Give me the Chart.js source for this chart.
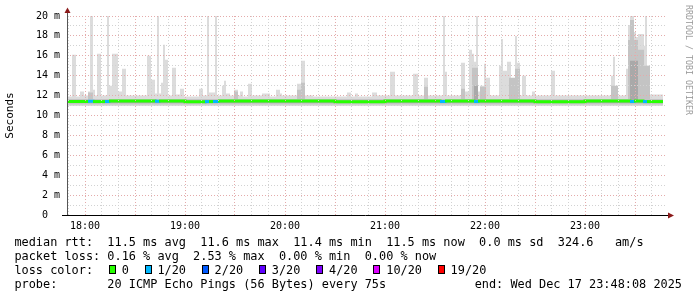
<!DOCTYPE html>
<html><head><meta charset="utf-8">
<script src="https://cdn.jsdelivr.net/npm/chart.js@4.4.1/dist/chart.umd.min.js"></script>
<style>
html,body{margin:0;padding:0;background:#fff;}
#wrap{position:relative;width:697px;height:297px;overflow:hidden;background:#fff;}
#c{position:absolute;left:0;top:0;}
.leg{position:absolute;left:14.4px;top:234.6px;font-family:'DejaVu Sans Mono',monospace;font-size:11.88px;line-height:14px;white-space:pre;color:#000;}
.sq{display:inline-block;box-sizing:border-box;width:7px;height:9px;border:1px solid #000;margin-left:1.5px;margin-right:-1.35px;vertical-align:baseline;}
#end{position:absolute;right:15px;top:276.6px;font-family:'DejaVu Sans Mono',monospace;font-size:11.88px;line-height:14px;white-space:pre;color:#000;}
#wm{position:absolute;left:693.5px;top:5px;transform:rotate(90deg);transform-origin:0 0;font-family:'DejaVu Sans Mono',monospace;font-size:8.3px;line-height:10px;color:#9a9a9a;white-space:nowrap;}
</style></head>
<body>
<div id="wrap">
<canvas id="c" width="697" height="297"></canvas>
<div class="leg" id="leg"></div>
<div id="end"></div>
<div id="wm">RRDTOOL / TOBI OETIKER</div>
</div>
<script>
// ---- data (time in minutes relative to 18:00, values in ms) ----
const hourLabels = ['18:00','19:00','20:00','21:00','22:00','23:00'];
const lossLabels = ['0','1/20','2/20','3/20','4/20','10/20','19/20'];
const lossColors = ['#26ff00','#00b8ff','#0059ff','#5e00ff','#7e00ff','#dd00ff','#ff0000'];

// outer (lightest) smoke: maximum ping per step
const smokeT = [-10.8,-7.8,-5.4,-3.0,-0.6,1.8,3.0,4.8,6.0,7.2,9.6,13.2,14.4,16.2,19.8,22.2,24.6,37.2,39.6,42.0,43.2,44.4,45.6,46.8,48.0,49.8,52.2,54.6,57.0,59.4,68.4,70.8,73.2,74.4,78.0,79.2,82.2,83.4,84.6,87.0,89.4,91.8,93.0,94.8,97.8,100.2,106.2,111.0,114.6,117.0,118.2,127.2,129.6,132.0,136.8,157.2,159.6,162.0,163.8,172.2,175.2,183.0,186.0,196.8,199.8,203.4,205.8,214.8,216.0,217.2,225.6,228.0,230.4,232.2,233.4,234.6,235.8,237.0,239.4,240.6,243.0,248.4,249.6,250.8,253.2,255.6,258.0,259.2,261.0,262.2,264.6,268.2,270.0,279.6,282.0,315.6,316.8,318.0,319.8,324.6,325.8,327.0,329.4,330.6,331.8,335.4,336.0,337.2,339.0,346.8];
const smokeHi = [11.9,16.1,11.9,12.4,12.0,12.4,20.5,12.6,12.0,16.2,12.0,20.5,13.0,16.2,12.4,14.7,12.0,16.0,13.6,12.2,20.5,12.2,13.3,17.1,15.6,12.0,14.8,12.1,12.7,11.9,12.7,12.0,20.5,12.3,20.5,12.0,13.0,13.5,12.2,12.0,12.6,12.0,12.4,11.9,13.2,12.0,12.2,11.9,12.6,12.2,12.0,13.2,15.5,12.0,11.9,12.3,11.9,12.2,11.9,12.3,12.0,14.4,12.0,14.2,12.0,13.8,12.0,20.5,14.4,12.0,15.3,12.4,16.6,16.2,15.4,20.5,12.4,13.0,15.2,13.8,12.0,15.0,17.7,14.5,15.4,13.6,18.0,15.3,12.0,14.0,12.0,12.4,12.0,14.5,12.0,14.0,15.9,12.9,12.0,14.7,19.1,20.5,18.4,17.9,18.2,17.0,20.5,15.0,12.1,12.1];

// middle smoke band
const midT  = [-10.8,1.8,4.8,89.4,91.8,127.2,129.6,132.0,203.4,205.8,225.6,228.0,232.2,235.8,237.0,240.6,254.4,258.0,261.0,315.6,319.8,325.8,327.0,329.4,331.8,335.4,339.0,346.8];
const midHi = [11.65,12.3,11.65,12.4,11.65,12.6,13.3,11.65,12.9,11.65,12.7,11.65,14.8,11.65,12.9,11.65,13.8,14.7,11.65,13.0,11.65,17.6,19.6,17.6,16.6,15.0,11.65,11.65];

// inner (darkest) smoke band
const darkT  = [-10.8,233.4,235.8,327.0,331.8,346.8];
const darkHi = [11.5,13.0,11.5,15.5,11.5,11.5];

// median rtt and loss class (index into lossColors)
const medT    = [-10.8,1.8,4.8,12.0,14.4,30.0,42.0,44.4,60.0,72.0,74.4,76.8,79.8,100.0,150.0,180.0,213.0,216.0,233.4,235.8,270.0,300.0,327.0,329.4,334.8,337.2,346.8];
const medV    = [11.4,11.42,11.4,11.4,11.45,11.45,11.42,11.45,11.38,11.4,11.4,11.4,11.45,11.45,11.38,11.45,11.4,11.45,11.4,11.45,11.38,11.45,11.4,11.45,11.4,11.4,11.4];
const medLoss = [0,1,0,1,0,0,1,0,0,1,0,1,0,0,0,0,1,0,1,0,0,0,1,0,1,0,0];

const statsLine1 = 'median rtt:  11.5 ms avg  11.6 ms max  11.4 ms min  11.5 ms now  0.0 ms sd  324.6   am/s';
const statsLine2 = 'packet loss: 0.16 % avg  2.53 % max  0.00 % min  0.00 % now';
const probeLine  = 'probe:       20 ICMP Echo Pings (56 Bytes) every 75s';
const endLine    = 'end: Wed Dec 17 23:48:08 2025';

// ---- legend text ----
(function(){
  const esc = s => s.replace(/&/g,'&amp;').replace(/</g,'&lt;');
  let l3 = 'loss color:  ';
  lossLabels.forEach((lb,i)=>{
    l3 += '<span class="sq" style="background:'+lossColors[i]+'"></span> ' + esc(lb) + (i<lossLabels.length-1?'  ':'');
  });
  document.getElementById('leg').innerHTML = esc(statsLine1)+'\n'+esc(statsLine2)+'\n'+l3+'\n'+esc(probeLine);
  document.getElementById('end').textContent = endLine;
})();

const pts = (T,V) => T.map((t,i)=>({x:t,y:V[i]}));

const axisDeco = {
  id:'axisDeco',
  afterDraw(chart){
    const {ctx, chartArea:a} = chart;
    ctx.save();
    ctx.lineWidth = 1;
    ctx.strokeStyle = '#000';
    ctx.beginPath();
    ctx.moveTo(a.left-5, a.bottom+0.5); ctx.lineTo(a.right+2, a.bottom+0.5);
    ctx.stroke();
    ctx.strokeStyle = '#555';
    ctx.beginPath();
    ctx.moveTo(a.left+0.5, a.bottom); ctx.lineTo(a.left+0.5, a.top-4);
    ctx.stroke();
    ctx.fillStyle = '#8b1a1a';
    ctx.beginPath();
    ctx.moveTo(a.left-2.5, a.top-3); ctx.lineTo(a.left+3.5, a.top-3); ctx.lineTo(a.left+0.5, a.top-8.5); ctx.closePath(); ctx.fill();
    ctx.beginPath();
    ctx.moveTo(a.right+1, a.bottom-2.5); ctx.lineTo(a.right+1, a.bottom+3.5); ctx.lineTo(a.right+7, a.bottom+0.5); ctx.closePath(); ctx.fill();
    ctx.restore();
  }
};

const MAJ = '#e4abab', MIN = '#d2d2d2';

new Chart(document.getElementById('c'), {
  type:'line',
  data:{
    datasets:[
      {data:pts(medT,medV), order:0, stepped:true, borderWidth:3, borderCapStyle:'butt', fill:false,
       borderColor:lossColors[0],
       segment:{borderColor: c => lossColors[medLoss[c.p0DataIndex]]}},
      {data:pts(darkT,darkHi), order:1, stepped:true, borderWidth:1, borderColor:'rgba(0,0,0,0)',
       backgroundColor:'#a9a9a9', fill:{value:11.25}},
      {data:pts(midT,midHi), order:2, stepped:true, borderWidth:1, borderColor:'rgba(0,0,0,0)',
       backgroundColor:'#c4c4c4', fill:{value:11.1}},
      {data:pts(smokeT,smokeHi), order:3, stepped:true, borderWidth:1, borderColor:'rgba(0,0,0,0)',
       backgroundColor:'#dcdcdc', fill:{value:10.95}}
    ]
  },
  options:{
    responsive:false, animation:false, events:[],
    layout:{padding:{left:0, top:16, right:30, bottom:60}},
    elements:{point:{radius:0}},
    plugins:{legend:{display:false}, tooltip:{enabled:false}},
    scales:{
      x:{type:'linear', min:-10.8, max:349.2,
        afterFit(s){ s.height = 22; },
        afterBuildTicks(s){ const t=[]; for(let v=-10; v<=340; v+=10) t.push({value:v}); s.ticks = t; },
        ticks:{autoSkip:false, maxRotation:0, padding:5, color:'#000',
          font:{family:'DejaVu Sans Mono', size:10},
          callback:(v)=> (v % 60 === 0 && v>=0) ? hourLabels[v/60] : ''},
        grid:{z:1, drawTicks:false, lineWidth:1,
          color: c => (c.tick && c.tick.value % 30 === 0) ? MAJ : MIN},
        border:{display:false, dash:[1,2]}
      },
      y:{type:'linear', min:0, max:20,
        afterFit(s){ s.width = 67; },
        ticks:{stepSize:1, autoSkip:false, padding:7, color:'#000',
          font:{family:'DejaVu Sans Mono', size:10},
          callback:(v)=> v===0 ? '0  ' : (v % 2 === 0 ? v+' m' : '')},
        grid:{z:1, drawTicks:false, lineWidth:1,
          color: c => (c.tick && c.tick.value % 2 === 0) ? MAJ : MIN},
        border:{display:false, dash:[1,2]},
        title:{display:true, text:'Seconds', color:'#000', padding:{top:4,bottom:0},
          font:{family:'DejaVu Sans Mono', size:11}}
      }
    }
  },
  plugins:[axisDeco]
});
</script>
</body></html>
